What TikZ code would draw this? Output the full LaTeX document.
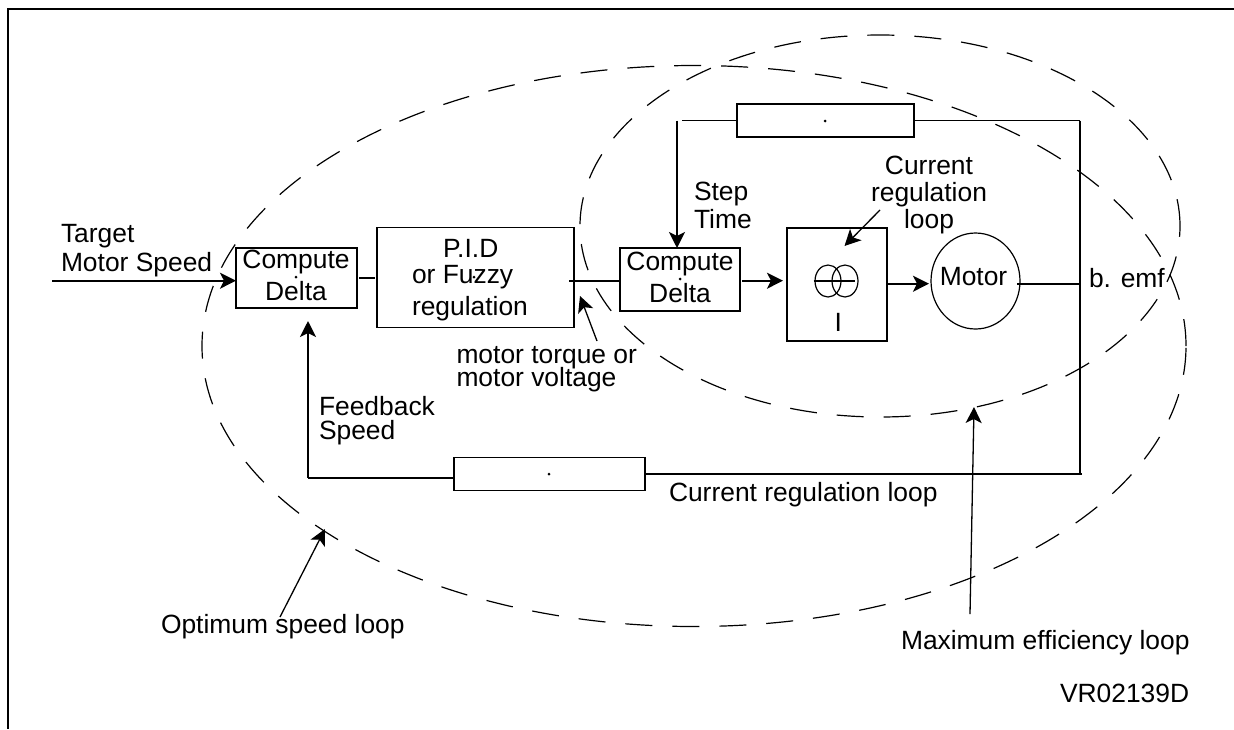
\documentclass[tikz,border=0pt]{standalone}
\usepackage{fontspec}
\setmainfont{Liberation Sans}
\usetikzlibrary{arrows.meta,shapes,calc}

\begin{document}
\begin{tikzpicture}[x=1pt,y=-1pt]
\useasboundingbox (0,0) rectangle (1234,729);
	\tikzset{every node/.style={font=\fontsize{26.4}{29}\selectfont, inner sep=0pt, outer sep=0pt}}
	\tikzset{block/.style={rectangle, draw=black, line width=1.8pt}}
	\tikzset{loopline/.style={ellipse, draw=black, line width=1.2pt, dash pattern=on 27pt off 20pt}}
	\tikzset{coil/.style={ellipse, draw=black, line width=1.2pt, minimum width=26pt, minimum height=32pt}}
	\tikzset{wire/.style={line width=1.8pt}}
	\tikzset{flow/.style={line width=1.8pt, -{Stealth[length=16pt,width=16pt,inset=4pt]}}}
	\tikzset{callout/.style={line width=1.3pt, -{Stealth[length=16pt,width=16pt,inset=4pt]}}}
	\tikzset{spot/.style={circle, fill=black, minimum size=3pt}}
	\tikzset{lbl/.style={anchor=base west}}
	\tikzset{stack/.style={align=left, anchor=west}}

% frame
\coordinate (frameTL) at (8,9);
\coordinate (frameTR) at (1234,9);
\coordinate (frameBL) at (8,729);
\draw[line width=2.4pt] (frameTR) -- (frameTL) -- (frameBL);

% loops
\node[loopline, minimum width=984pt, minimum height=561pt] (speedloop) at (694,346) {};
\node[loopline, minimum width=600pt, minimum height=382pt] (effloop) at (880,226) {};

% blocks
\node[block, minimum width=121pt, minimum height=60pt] (delta1) at (296.5,278) {};
\node[block, minimum width=197pt, minimum height=100pt] (pid) at (475.5,277.5) {};
\node[block, minimum width=120pt, minimum height=63pt] (delta2) at (680,279.5) {};
\node[block, minimum width=100pt, minimum height=113pt] (drive) at (837,284.5) {};
\node[ellipse, draw=black, line width=1.2pt, minimum width=89pt, minimum height=96pt] (motor) at (975.5,281) {};
\node[block, minimum width=177pt, minimum height=33pt] (stepfilter) at (825.5,120.5) {};
\node[block, minimum width=191pt, minimum height=33pt] (speedfilter) at (549.5,474) {};

% specks
\node[spot] (spot1) at (296,277) {};
\node[spot] (spot2) at (474,277) {};
\node[spot] (spot3) at (680,279) {};
\node[spot] (spot4) at (825,121) {};
\node[spot] (spot5) at (549,474) {};

% current source
\node[coil] (coilA) at (828,281) {};
\node[coil] (coilB) at (845,281) {};
\draw[wire] ([xshift=-1.5pt]coilA.west) -- ([xshift=-3.5pt]coilB.east);

% connectors
\coordinate (input) at (52,280.7);
\coordinate (stepL) at (677,120.5);
\coordinate (stepR) at (1080,120.5);
\coordinate (feedR) at (1080,474);
\coordinate (feedL) at (308,477.7);
\coordinate (feedtip) at (308,321);
\draw[flow] (input) -- (input -| delta1.west);
\draw[wire] ([xshift=2pt,yshift=0.3pt]delta1.east) -- ([xshift=-2pt,yshift=0.3pt]delta1.east -| pid.west);
\draw[wire] ([xshift=-5pt,yshift=-3.2pt]pid.east) -- ([yshift=-1.2pt]delta2.west);
\draw[flow] ([xshift=2pt,yshift=-1.2pt]delta2.east) -- ([xshift=-4pt,yshift=3.8pt]drive.west);
\draw[flow] ([yshift=0.8pt]drive.east) -- ([xshift=-2pt,yshift=-2.7pt]motor.west);
\draw[wire] ([xshift=-3pt,yshift=-2.7pt]motor.east) -- ([yshift=-2.7pt]motor.east -| stepR);
\draw[wire] (stepfilter.east) -- (stepR);
\draw[wire] (stepfilter.west) -- ([xshift=5pt]stepL);
\draw[flow] (stepL) -- (stepL |- delta2.north);
\draw[wire] (stepR) -- (feedR);
\draw[wire] (speedfilter.east) -- ([xshift=2pt]feedR);
\draw[wire] ([yshift=-3.7pt]speedfilter.west) -- (feedL);
\draw[flow] (feedL) -- (feedtip);

% labels
\node[stack] (targetlbl) at (61,251) {Target\\Motor Speed};
\node[align=center] (delta1lbl) at (296,275) {Compute\\[3pt]Delta};
\node[lbl] (pidlbl1) at (443,257) {P.I.D};
\node[lbl] (pidlbl2) at (412,283) {or Fuzzy};
\node[lbl] (pidlbl3) at (412,315) {regulation};
\node[stack] (torquelbl) at (456.5,369) {motor torque or\\[-5.5pt]motor voltage};
\node[align=center] (delta2lbl) at (680,277) {Compute\\[3pt]Delta};
\node[stack] (steplbl) at (694,205) {Step\\[-1pt]Time};
\node[align=center] (currentlbl) at (929,195) {Current\\[-2pt]regulation\\[-2pt]loop};
\node[lbl] (drivelbl) at (834.5,331) {I};
\node[anchor=base] (motorlbl) at (973.5,285) {Motor};
\node[lbl] (emflbl) at (1089,287) {b. emf};
\node[stack] (feedbacklbl) at (319,421) {Feedback\\[-5pt]Speed};
\node[lbl] (looplbl) at (669,501.7) {Current regulation loop};
\node[lbl] (optlbl) at (161,633) {Optimum speed loop};
\node[lbl] (maxlbl) at (901,649) {Maximum efficiency loop};
\node[lbl] (reflbl) at (1060,702) {VR02139D};

% callouts
\coordinate (currenttip) at (844.5,246);
\coordinate (torquetip) at (580,296);
\coordinate (efftip) at (974,407);
\coordinate (opttip) at (325,529);
\draw[callout] (880,210) -- (currenttip);
\draw[callout] (597,341) -- (torquetip);
\draw[callout] (970,614) -- (efftip);
\draw[callout] (280,617) -- (opttip);
\end{tikzpicture}
\end{document}
